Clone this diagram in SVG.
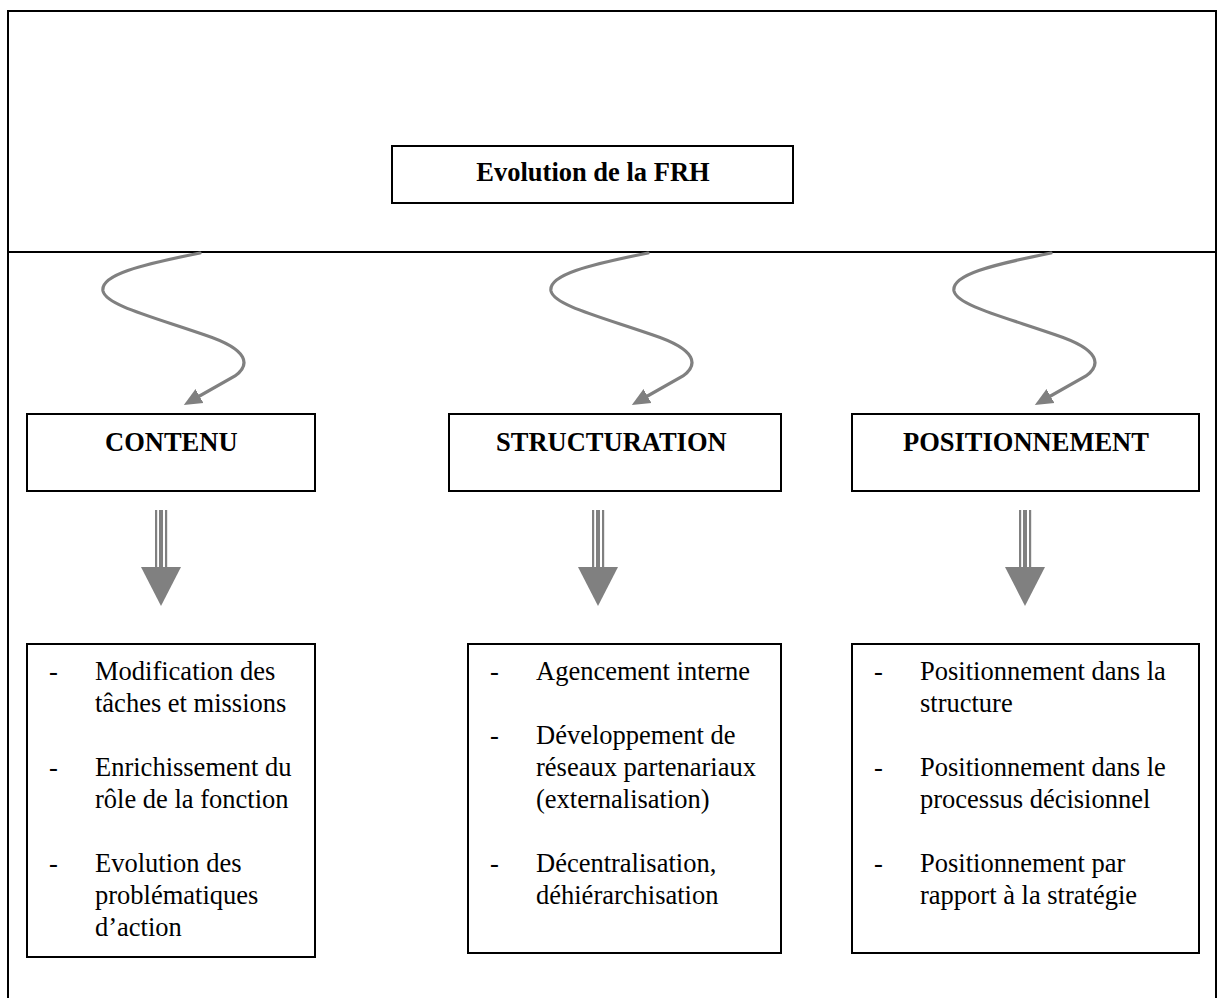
<svg xmlns="http://www.w3.org/2000/svg" width="1218" height="998" viewBox="0 0 1218 998">
<style>
.frame{fill:none;stroke:#000;stroke-width:2}
.box{fill:#fff;stroke:#000;stroke-width:2}
.t{font-family:"Liberation Serif","Times New Roman",serif;font-size:26.5px;fill:#000}
.b{font-weight:bold}
.curve{fill:none;stroke:#808080;stroke-width:3.2;stroke-linecap:round}
.grey{fill:#808080}
</style>
<defs>
<marker id="ah" markerUnits="userSpaceOnUse" markerWidth="20" markerHeight="20" viewBox="0 0 20 20" refX="4" refY="10" orient="auto">
<path d="M0,2 L18,10 L0,18 Z" fill="#808080"/>
</marker>
<path id="wave" class="curve" d="M200,253 C140,265 100,275 103,291 C106,305 150,316 205,335 C250,350 250,365 235,376 L196,398"/>
<g id="fat">
<rect x="-6" y="510" width="2.2" height="58" class="grey"/>
<rect x="-2" y="510" width="4" height="58" class="grey"/>
<rect x="4" y="510" width="2.2" height="58" class="grey"/>
<path d="M-20,567 L20,567 L0,606 Z" class="grey"/>
</g>
</defs>
<rect class="frame" x="8" y="11" width="1208" height="1010"/>
<line x1="8" y1="252" x2="1216" y2="252" stroke="#000" stroke-width="2"/>

<g id="connectors">
<use href="#wave" marker-end="url(#ah)"/>
<use href="#wave" transform="translate(448,0)" marker-end="url(#ah)"/>
<use href="#wave" transform="translate(851,0)" marker-end="url(#ah)"/>
<use href="#fat" transform="translate(161,0)"/>
<use href="#fat" transform="translate(598,0)"/>
<use href="#fat" transform="translate(1025,0)"/>
</g>

<g id="n-evolution">
<rect class="box" x="392" y="146" width="401" height="57"/>
<text class="t b" x="593" y="181" text-anchor="middle">Evolution de la FRH</text>
</g>

<g id="n-contenu">
<rect class="box" x="27" y="414" width="288" height="77"/>
<text class="t b" x="105" y="451">CONTENU</text>
</g>
<g id="n-structuration">
<rect class="box" x="449" y="414" width="332" height="77"/>
<text class="t b" x="496" y="451">STRUCTURATION</text>
</g>
<g id="n-positionnement">
<rect class="box" x="852" y="414" width="347" height="77"/>
<text class="t b" x="903" y="451">POSITIONNEMENT</text>
</g>

<g id="n-list-contenu">
<rect class="box" x="27" y="644" width="288" height="313"/>
<text class="t" x="49" y="680">-</text>
<text class="t" x="95" y="680">Modification des</text>
<text class="t" x="95" y="712">tâches et missions</text>
<text class="t" x="49" y="776">-</text>
<text class="t" x="95" y="776">Enrichissement du</text>
<text class="t" x="95" y="808">rôle de la fonction</text>
<text class="t" x="49" y="872">-</text>
<text class="t" x="95" y="872">Evolution des</text>
<text class="t" x="95" y="904">problématiques</text>
<text class="t" x="95" y="936">d’action</text>
</g>

<g id="n-list-structuration">
<rect class="box" x="468" y="644" width="313" height="309"/>
<text class="t" x="490" y="680">-</text>
<text class="t" x="536" y="680">Agencement interne</text>
<text class="t" x="490" y="744">-</text>
<text class="t" x="536" y="744">Développement de</text>
<text class="t" x="536" y="776">réseaux partenariaux</text>
<text class="t" x="536" y="808">(externalisation)</text>
<text class="t" x="490" y="872">-</text>
<text class="t" x="536" y="872">Décentralisation,</text>
<text class="t" x="536" y="904">déhiérarchisation</text>
</g>

<g id="n-list-positionnement">
<rect class="box" x="852" y="644" width="347" height="309"/>
<text class="t" x="874" y="680">-</text>
<text class="t" x="920" y="680">Positionnement dans la</text>
<text class="t" x="920" y="712">structure</text>
<text class="t" x="874" y="776">-</text>
<text class="t" x="920" y="776">Positionnement dans le</text>
<text class="t" x="920" y="808">processus décisionnel</text>
<text class="t" x="874" y="872">-</text>
<text class="t" x="920" y="872">Positionnement par</text>
<text class="t" x="920" y="904">rapport à la stratégie</text>
</g>
</svg>
